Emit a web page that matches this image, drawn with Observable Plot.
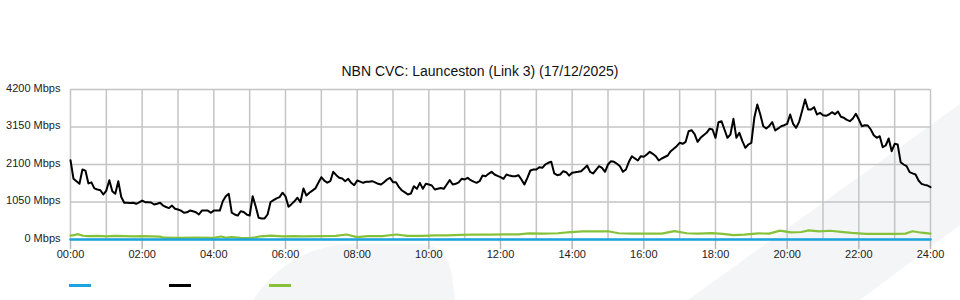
<!DOCTYPE html>
<html>
<head>
<meta charset="utf-8">
<script src="https://cdn.jsdelivr.net/npm/d3@7"></script>
<script src="https://cdn.jsdelivr.net/npm/@observablehq/plot@0.6"></script>
<style>
  html, body { margin: 0; padding: 0; background: #fff; }
  body { width: 960px; height: 300px; position: relative; overflow: hidden; font-family: "Liberation Sans", Arial, sans-serif; }
  #bg { position: absolute; left: 0; top: 0; }
  #title { position: absolute; left: 0; top: 62px; width: 960px; text-align: center; font-size: 14px; line-height: 18px; color: #111; }
  #chart { position: absolute; left: 0; top: 81px; }
  #legend { position: absolute; left: 0; top: 270px; width: 960px; height: 30px; }
  .sw { position: absolute; top: 14px; width: 22px; height: 3px; }
</style>
</head>
<body>
<svg id="bg" width="960" height="300">
  <path d="M253,300 Q290,246 350,244 L425,244 Q447,247 452,275 L455,300 Z" fill="#f4f5f7"/>
  <path d="M688,300 L960,104 L960,225 L860,300 Z" fill="#f4f5f7"/>
</svg>
<div id="title">NBN CVC: Launceston (Link 3) (17/12/2025)</div>
<div id="chart"></div>
<div id="legend">
  <div class="sw" style="left:69px;background:#1aa3e0"></div>
  <div class="sw" style="left:169px;background:#000"></div>
  <div class="sw" style="left:269px;background:#85c23a"></div>
</div>
<script>
// Y axis tick values (Mbps)
const yTicks = [0, 1050, 2100, 3150, 4200];
// X axis: hours labelled every 2h, grid every hour
const xLabelHours = [0, 2, 4, 6, 8, 10, 12, 14, 16, 18, 20, 22, 24];
const gridHours = d3.range(0, 25);

// Black series: 5-minute samples from 00:00 to 24:00 (Mbps)
const blackValues = [
2220,1700,1630,1560,1960,1930,1570,1600,1430,1400,1380,1260,1370,1660,1350,1280,1630,1190,1030,1030,
1020,1030,1000,1040,1090,1045,1040,1035,980,1000,1030,950,910,880,950,860,840,810,750,760,
810,790,765,700,810,810,810,750,810,810,810,1070,1210,1280,750,700,670,790,770,700,
670,1210,930,610,590,590,700,1050,1100,1150,1185,1310,1210,915,990,1070,1170,1045,1430,1230,
1310,1370,1430,1590,1745,1650,1590,1633,1895,1800,1727,1708,1633,1699,1587,1521,1652,1620,1587,1615,
1620,1633,1600,1559,1540,1605,1680,1727,1605,1605,1465,1372,1320,1260,1288,1493,1419,1587,1419,1559,
1540,1512,1400,1420,1440,1419,1540,1661,1540,1559,1600,1699,1680,1727,1661,1620,1587,1633,1792,1773,
1839,1895,1820,1780,1745,1699,1820,1790,1773,1773,1801,1680,1540,1727,1932,1960,1960,2025,2007,2100,
2147,2175,1850,1801,1820,1913,1885,1790,1867,1880,1895,1913,1990,2072,1895,1848,1950,2053,2007,1895,
2100,2193,2175,2120,2053,1895,1960,2175,2333,2270,2212,2333,2315,2380,2455,2399,2333,2212,2268,2310,
2352,2473,2540,2613,2707,2679,2735,3033,3060,2950,2735,2847,2920,2987,3099,3080,2847,3285,3313,3080,
2847,2940,3379,2847,2987,2753,2567,2660,2707,3407,3780,3500,3173,3108,3180,3285,3052,3110,3173,3201,
3239,3500,3239,3127,3295,3600,3920,3640,3640,3705,3500,3547,3481,3463,3500,3565,3509,3584,3435,3407,
3351,3313,3388,3519,3360,3173,3201,3192,3080,2921,2847,2893,2585,2632,2828,2473,2679,2660,2165,2100,
2053,1885,1850,1820,1652,1559,1530,1512,1465
];
const blackStepMinutes = 5;

// Green series (hours, Mbps)
const greenHours = [0,0.1,0.2,0.35,0.5,0.75,1.0,1.25,1.5,1.75,2.0,2.25,2.5,2.6,3.0,3.5,4.0,4.2,4.35,4.5,4.75,5.0,5.1,5.3,5.6,5.9,6.25,6.5,7.0,7.4,7.7,8.0,8.3,8.7,9.1,9.4,9.8,10.2,10.5,10.9,11.3,11.7,12.1,12.5,12.8,13.2,13.6,13.95,14.3,14.7,15.0,15.3,15.7,16.1,16.5,16.85,17.2,17.5,17.9,18.2,18.5,18.8,19.2,19.5,19.8,20.1,20.4,20.6,20.9,21.2,21.5,21.8,22.2,22.6,23.0,23.3,23.5,23.75,24];
const greenValues = [110,120,150,105,95,100,90,100,95,90,95,85,80,50,45,50,45,85,50,70,45,40,50,90,110,90,95,90,95,100,140,65,95,95,140,100,100,115,115,130,140,135,145,145,170,165,175,205,230,225,230,175,165,165,165,235,175,165,180,155,120,135,170,165,250,200,210,255,230,245,215,185,160,160,155,165,230,190,165];

// Blue series (hours, Mbps)
const blueHours = [0, 6, 12, 18, 24];
const blueValues = [0, 0, 0, 0, 0];

const black = blackValues.map((v, i) => ({h: i * blackStepMinutes / 60, v}));
const green = greenHours.map((h, i) => ({h, v: greenValues[i]}));
const blue = blueHours.map((h, i) => ({h, v: blueValues[i]}));

const fmtHour = h => String(h).padStart(2, "0") + ":00";

const chart = Plot.plot({
  width: 960,
  height: 189,
  marginLeft: 70,
  marginRight: 30,
  marginTop: 8,
  marginBottom: 31,
  style: {background: "transparent", fontFamily: "'Liberation Sans', Arial, sans-serif", fontSize: "11px", color: "#222", overflow: "visible"},
  x: {domain: [0, 24], axis: null, label: null},
  y: {domain: [0, 4200], axis: null, label: null},
  marks: [
    Plot.ruleX(gridHours, {x: d => d, y1: 0, y2: 4200, stroke: "#c4c4c4", strokeWidth: 1.5}),
    Plot.ruleY(yTicks, {y: d => d, x1: 0, x2: 24, stroke: "#c4c4c4", strokeWidth: 1.5}),
    Plot.axisX({ticks: xLabelHours, tickFormat: fmtHour, label: null, tickSize: 10, tickPadding: 1, stroke: "#b8b8b8", strokeWidth: 1.5, fill: "#222", fontSize: 11}),
    Plot.axisY({ticks: yTicks, tickFormat: d => d + " Mbps", label: null, tickSize: 0, tickPadding: 10, dy: -1.5, fill: "#222", fontSize: 11}),
    Plot.line(green, {x: "h", y: "v", stroke: "#85c23a", strokeWidth: 2.2}),
    Plot.line(blue, {x: "h", y: "v", stroke: "#1aa3e0", strokeWidth: 2.5}),
    Plot.line(black, {x: "h", y: "v", stroke: "#000", strokeWidth: 2, strokeLinejoin: "round"})
  ]
});
document.getElementById("chart").appendChild(chart);
</script>
</body>
</html>
